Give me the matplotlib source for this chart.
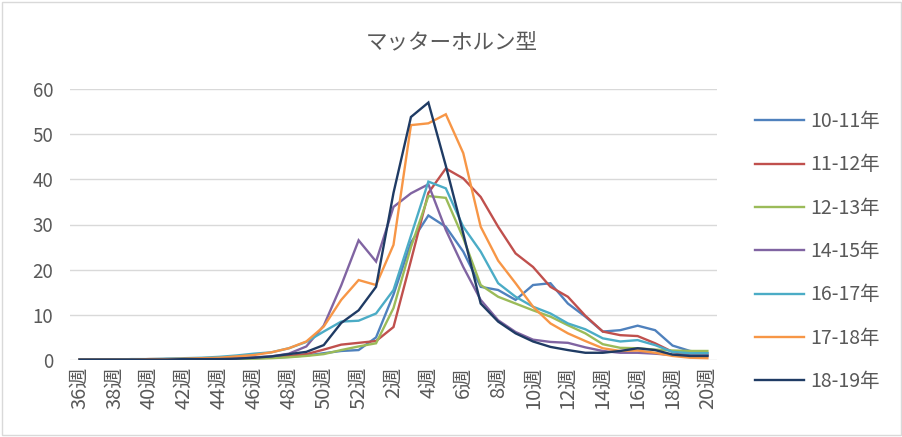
import matplotlib
matplotlib.use("Agg")
import matplotlib.pyplot as plt
from matplotlib.patches import Rectangle

plt.rcParams['font.family'] = ['Noto Sans CJK JP', 'DejaVu Sans']

weeks = list(range(36, 53)) + list(range(1, 21))
week_labels = [f"{w}週" for w in weeks]

s_10_11 = [0.1, 0.1, 0.1, 0.1, 0.1, 0.2, 0.2, 0.2, 0.3,
           0.3, 0.4, 0.5, 0.7, 1.0, 1.5, 2.0, 2.2,
           5.0, 14.5, 26.0, 32.0, 29.5, 24.0, 16.2, 15.5, 13.3, 16.6, 17.0,
           12.5, 9.6, 6.3, 6.6, 7.6, 6.6, 3.2, 2.0, 1.5]
s_11_12 = [0.1, 0.1, 0.1, 0.1, 0.2, 0.2, 0.2, 0.3, 0.3,
           0.4, 0.5, 0.6, 0.9, 1.3, 2.3, 3.4, 3.8,
           4.2, 7.3, 22.0, 37.0, 42.4, 40.2, 36.1, 29.5, 23.6, 20.6, 16.2,
           14.0, 9.8, 6.3, 5.5, 5.3, 3.7, 1.8, 1.0, 1.0]
s_12_13 = [0.1, 0.1, 0.1, 0.1, 0.1, 0.1, 0.2, 0.2, 0.2,
           0.3, 0.3, 0.4, 0.6, 0.9, 1.3, 2.2, 3.0,
           3.7, 11.5, 25.0, 36.3, 35.9, 27.0, 16.6, 14.0, 12.5, 11.0, 9.6,
           7.7, 5.9, 3.5, 2.7, 2.6, 2.3, 2.1, 2.0, 2.0]
s_14_15 = [0.1, 0.1, 0.1, 0.1, 0.1, 0.2, 0.2, 0.3, 0.3,
           0.4, 0.6, 0.8, 1.4, 3.0, 7.6, 16.5, 26.5,
           21.8, 33.9, 36.9, 38.9, 28.8, 20.6, 13.3, 8.8, 6.2, 4.5, 4.0,
           3.8, 2.8, 2.0, 1.6, 1.6, 1.4, 1.1, 1.0, 1.0]
s_16_17 = [0.1, 0.1, 0.1, 0.2, 0.2, 0.3, 0.4, 0.5, 0.7,
           1.0, 1.4, 1.7, 2.6, 4.0, 6.3, 8.5, 8.7,
           10.3, 15.5, 27.5, 39.5, 38.0, 29.5, 24.0, 17.0, 14.0, 11.8, 10.3,
           8.1, 6.8, 4.8, 4.1, 4.4, 3.3, 1.8, 1.5, 1.5]
s_17_18 = [0.1, 0.1, 0.1, 0.1, 0.2, 0.2, 0.3, 0.4, 0.5,
           0.8, 1.1, 1.7, 2.6, 4.1, 7.4, 13.3, 17.7,
           16.6, 25.5, 52.0, 52.4, 54.4, 45.8, 29.5, 22.0, 17.0, 11.8, 8.1,
           5.9, 4.2, 2.6, 2.0, 2.1, 1.6, 0.9, 0.5, 0.4]
s_18_19 = [0.1, 0.1, 0.1, 0.1, 0.1, 0.1, 0.2, 0.2, 0.2,
           0.3, 0.5, 0.8, 1.3, 1.8, 3.3, 8.2, 11.0,
           16.2, 37.0, 53.8, 57.0, 43.0, 28.0, 12.5, 8.5, 5.9, 4.1, 2.9,
           2.2, 1.6, 1.6, 2.0, 2.6, 2.2, 1.2, 0.9, 0.9]

series_names = ["10-11年", "11-12年", "12-13年", "14-15年", "16-17年", "17-18年", "18-19年"]
series_values = [s_10_11, s_11_12, s_12_13, s_14_15, s_16_17, s_17_18, s_18_19]
colors = ["#4F81BD", "#C0504D", "#9BBB59", "#8064A2", "#4BACC6", "#F79646", "#1F3B64"]

W, H = 903, 437
fig = plt.figure(figsize=(W / 100, H / 100), dpi=100)
ax = fig.add_axes([70 / W, 1 - 360 / H, (717 - 70) / W, (360 - 89) / H])

x = list(range(len(weeks)))
for name, vals, c in zip(series_names, series_values, colors):
    ax.plot(x, vals, color=c, lw=1.7, label=name, solid_joinstyle='miter')

ax.set_ylim(0, 60)
ax.set_xlim(-0.55, len(weeks) - 1 + 0.55)
ax.set_yticks(range(0, 61, 10))
ax.set_xticks(x[::2])
ax.set_xticklabels(week_labels[::2], rotation=90, fontsize=14.5, color="#595959")
ax.tick_params(axis='y', labelsize=13.5, labelcolor="#595959", length=0, pad=12)
ax.tick_params(axis='x', length=0, pad=5)
ax.grid(axis='y', color="#D9D9D9", lw=1)
ax.set_axisbelow(True)
for sp in ax.spines.values():
    sp.set_visible(False)

fig.text(452 / W, 1 - 42 / H, "マッターホルン型", ha='center', va='center',
         fontsize=15.5, color="#595959")

leg = ax.legend(loc='upper left', bbox_to_anchor=(737.5 / W, 1 - 93.5 / H),
                bbox_transform=fig.transFigure, frameon=False, fontsize=14,
                handlelength=2.5, handletextpad=0.36, labelspacing=1.15)
for t in leg.get_texts():
    t.set_color("#595959")

fig.patches.append(Rectangle((2 / W, 2 / H), 1 - 4 / W, 1 - 4 / H,
                             transform=fig.transFigure, fill=False,
                             edgecolor="#D9D9D9", lw=1))

fig.savefig("out.png", dpi=100)
